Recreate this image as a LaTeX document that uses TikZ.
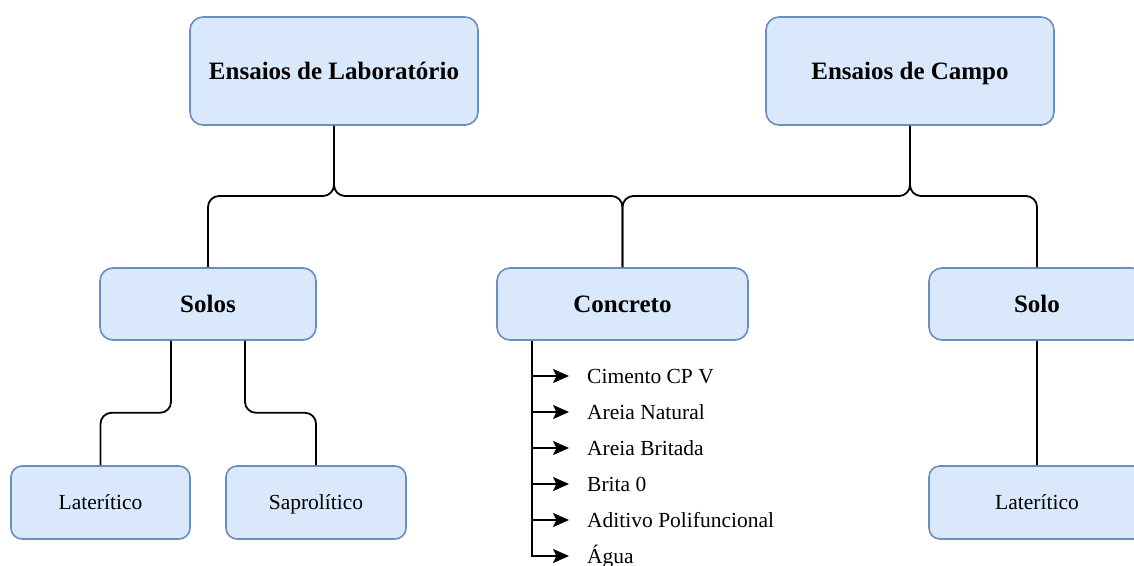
\documentclass[tikz,border=0pt]{standalone}
\usepackage{fontspec}
\setmainfont{Liberation Serif}
\usetikzlibrary{arrows.meta,calc}
\definecolor{boxfill}{HTML}{DAE8FC}
\definecolor{boxline}{HTML}{6C8EBF}
\tikzset{
  box/.style={draw=boxline, fill=boxfill, line width=1.6pt, rounded corners=13pt,
    inner sep=0pt, align=center, text depth=0pt},
  bigbox/.style={box, minimum width=288pt, minimum height=108pt,
    text height=16.5pt, font=\fontsize{25}{28}\selectfont\bfseries},
  midbox/.style={box, minimum height=72pt,
    text height=16.5pt, font=\fontsize{25}{28}\selectfont\bfseries},
  leafbox/.style={box, minimum height=73pt, rounded corners=11pt,
    text height=14.2pt, font=\fontsize{21.5}{25}\selectfont},
  item/.style={anchor=west, inner xsep=18pt, inner ysep=0pt,
    text height=14.2pt, text depth=0pt,
    font=\fontsize{21.5}{25}\selectfont},
  conn/.style={line width=1.8pt, rounded corners=11pt},
  feed/.style={line width=1.8pt, -{Stealth[length=16pt,width=14pt,inset=3.5pt]}}
}
\begin{document}
\begin{tikzpicture}[x=1pt,y=-1pt]
\useasboundingbox (0,0) rectangle (1134,565);
\clip (0,0) rectangle (1134,565);

% top level
\node[bigbox] (lab)   at (334,71) {Ensaios de Laboratório};
\node[bigbox] (campo) at (910,71) {Ensaios de Campo};

% second level
\node[midbox, minimum width=216pt] (solos) at (208,304)   {Solos};
\node[midbox, minimum width=251pt] (conc)  at (622.5,304) {Concreto};
\node[midbox, minimum width=216pt] (solo)  at (1037,304)  {Solo};

% leaves
\node[leafbox, minimum width=179pt] (lat1) at (100.5,502.5) {Laterítico};
\node[leafbox, minimum width=180pt] (sap)  at (316,502.5)   {Saprolítico};
\node[leafbox, minimum width=216pt] (lat2) at (1037,502.5)  {Laterítico};

% junction points of the top connectors
\coordinate (jl) at (334,196);
\coordinate (jc) at (910,196);

\draw[conn] (lab.south) -- (jl) -| (solos.north);
\draw[conn] (lab.south) -- (jl) -| (conc.north);
\draw[conn] (campo.south) -- (jc) -| (conc.north);
\draw[conn] (campo.south) -- (jc) -| (solo.north);

% soil types
\draw[conn] ($(solos.south)+(-37,0)$) -- ++(0,72) -| (lat1.north);
\draw[conn] ($(solos.south)+(37,0)$) -- ++(0,72) -| (sap.north);
\draw[conn] (solo.south) -- (lat2.north);

% concrete materials
\node[item] (m1) at (569,376) {Cimento CP V};
\node[item] (m2) at (569,412) {Areia Natural};
\node[item] (m3) at (569,448) {Areia Britada};
\node[item] (m4) at (569,484) {Brita 0};
\node[item] (m5) at (569,520) {Aditivo Polifuncional};
\node[item] (m6) at (569,556) {Água};

\coordinate (cs) at ($(conc.south)+(-90.5,0)$);
\foreach \m in {m1,m2,m3,m4,m5,m6}
  \draw[feed] (cs) |- (\m.west);
\end{tikzpicture}
\end{document}
